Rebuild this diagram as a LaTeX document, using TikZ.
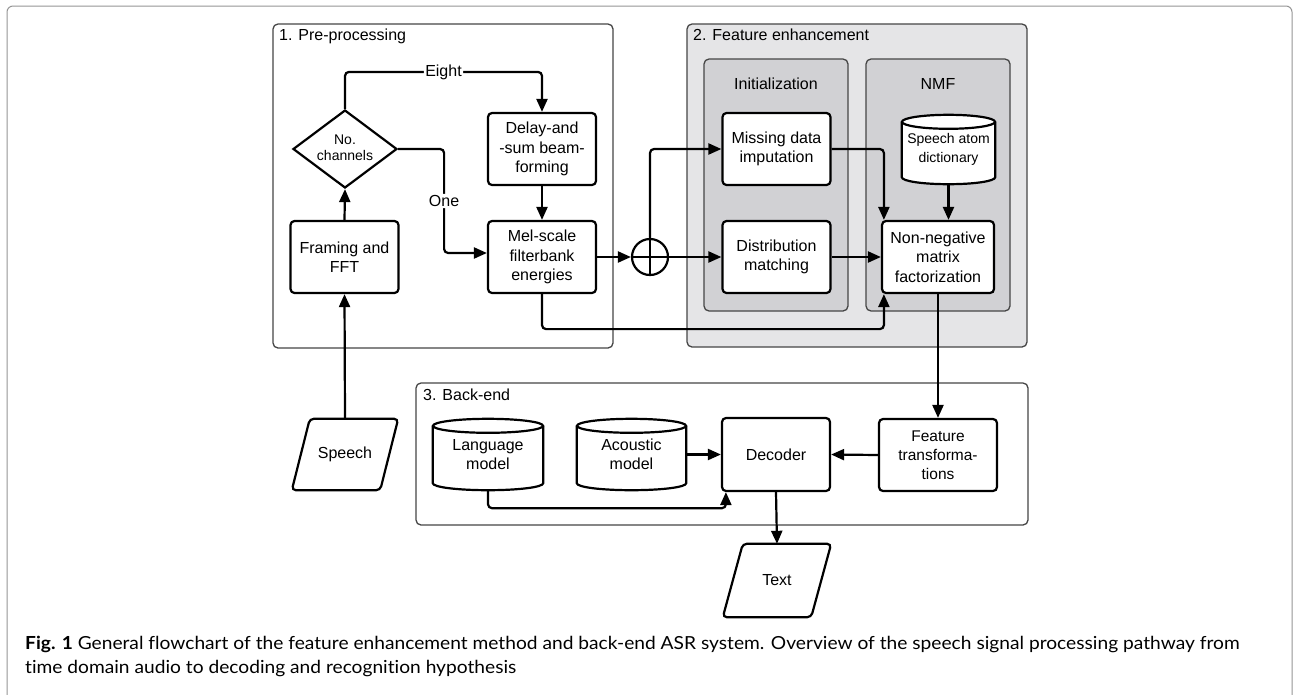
\documentclass[tikz,border=0pt]{standalone}
\usepackage{fontspec}
\setmainfont{Liberation Sans}
\newfontfamily\capfont[FakeStretch=1.065,Ligatures=NoCommon]{Lato}
\usetikzlibrary{arrows.meta,shapes.geometric,calc}
\definecolor{fe}{RGB}{229,229,231}
\definecolor{fein}{RGB}{209,209,212}
\definecolor{clborder}{RGB}{70,70,70}
\definecolor{frame}{RGB}{150,150,150}
\newcommand\drawcyl[2]{%
  \draw[cylline] ([yshift=-7pt]#1.north west) -- ([yshift=7pt]#1.south west)
     .. controls +(0,4) and +(-0.552*#2,0) .. (#1.south)
     .. controls +(0.552*#2,0) and +(0,4) .. ([yshift=7pt]#1.south east)
     -- ([yshift=-7pt]#1.north east);
  \draw[cylline] ([yshift=-7pt]#1.north) ellipse [x radius=#2, y radius=7];
}
\newcommand\drawpara[2]{%
  \draw[cylline, rounded corners=4pt] ([xshift=#2]#1.north west) -- ([xshift=#2]#1.north east)
     -- ([xshift=-#2]#1.south east) -- ([xshift=-#2]#1.south west) -- cycle;
}
\begin{document}
\begin{tikzpicture}[x=1pt,y=-1pt,
  font=\fontsize{16}{19.5}\selectfont,
  box/.style={draw, line width=2.2pt, rounded corners=4pt, minimum width=108pt,
    minimum height=72pt, inner sep=0pt, align=center, fill=white},
  cylnode/.style={inner sep=0pt, align=center, minimum width=110pt, minimum height=71pt},
  cylline/.style={line width=2.2pt, fill=white},
  cluster/.style={draw=clborder, line width=1.3pt, rounded corners=5pt},
  arr/.style={line width=2.2pt, rounded corners=4pt, -{Triangle[length=13pt,width=11pt]}},
  ln/.style={line width=2.2pt},
  lbl/.style={fill=white, inner sep=1.5pt},
  cltitle/.style={anchor=west, inner sep=0pt}
]
\useasboundingbox (0,0) rectangle (1294,694);
\fill[white] (0,0) rectangle (1294,694);
\draw[frame, line width=1pt, rounded corners=6pt] (7,6) rectangle (1292,720);

% clusters
\draw[cluster, fill=white] (273,24) rectangle (613,348);
\node[cltitle] (t1) at (279,36) {1. Pre-processing};
\draw[cluster, fill=fe] (687,24) rectangle (1027,347);
\node[cltitle] (t2) at (693,35) {2. Feature enhancement};
\draw[cluster, fill=fein] (704,59) rectangle (848,311);
\node (tinit) at (776,84) {Initialization};
\draw[cluster, fill=fein] (866,59) rectangle (1010,311);
\node (tnmf) at (938,84) {NMF};
\draw[cluster, fill=white] (416,383) rectangle (1028,525);
\node[cltitle] (t3) at (423,395) {3. Back-end};

% nodes
\node[box] (framing) at (344.5,257) {Framing and\\FFT};
\node[draw, diamond, aspect=1.333, minimum width=104pt, minimum height=78pt,
  inner sep=0pt, line width=2.2pt, fill=white, font=\fontsize{14}{16}\selectfont] (dia) at (345,149)
  {\raisebox{5pt}{\begin{tabular}{@{}c@{}}No.\\channels\end{tabular}}};
\node[box] (delay) at (542,149) {Delay-and\\-sum beam-\\forming};
\node[box] (mel) at (542,257) {Mel-scale\\filterbank\\energies};
\node[box] (missing) at (776.5,149) {Missing data\\imputation};
\node[box] (distr) at (776.5,257) {Distribution\\matching};
\node[box, minimum width=112pt] (nmf) at (938,257) {Non-negative\\matrix\\factorization};
\node[draw, circle, line width=2.2pt, minimum size=36pt, inner sep=0pt, fill=white] (sum) at (650,257) {};
\node[box, minimum height=73pt] (decoder) at (776,454.5) {Decoder};
\node[box, minimum width=118pt, minimum height=72pt, font=\fontsize{15.5}{19}\selectfont] (feat) at (938,455) {Feature\\transforma-\\tions};

% cylinders
\node[cylnode, font=\fontsize{14}{19}\selectfont, minimum width=93pt, minimum height=69pt] (atom) at (948.5,149.5) {};
\drawcyl{atom}{46.5}
\node[cylnode, font=\fontsize{14}{19}\selectfont, minimum width=93pt, minimum height=69pt] (atomtxt) at (atom) {Speech atom\\dictionary};
\node[cylnode] (lang) at (488,454.5) {};
\drawcyl{lang}{55}
\node[cylnode] (langtxt) at (lang) {Language\\model};
\node[cylnode, minimum width=109pt] (acoustic) at (631.5,454.5) {};
\drawcyl{acoustic}{54.5}
\node[cylnode, minimum width=109pt] (acoustictxt) at (acoustic) {Acoustic\\model};

% parallelograms
\node[inner sep=0pt, minimum width=88pt, minimum height=71pt] (speech) at (345,454.5) {};
\drawpara{speech}{9pt}
\node (speechtxt) at (speech) {Speech};
\node[inner sep=0pt, minimum width=88pt, minimum height=73pt] (text) at (777,580.5) {};
\drawpara{text}{10pt}
\node (texttxt) at (text) {Text};

% summing junction cross
\draw[ln] (sum.north) -- (sum.south);
\draw[ln] (sum.west) -- (sum.east);

% connectors
\draw[arr] (speech.north) -- (framing.south);
\draw[arr] (framing.north) -- (dia.south);
\draw[arr] (dia.north) -- ++(0,-37) -| node[lbl, pos=0.25] {Eight} (delay.north);
\draw[arr] (dia.east) -- ++(46,0) |- node[lbl, pos=0.25] {One} ([yshift=4pt]mel.west);
\draw[arr] (delay.south) -- (mel.north);
\draw[arr] (mel.east) -- (sum.west);
\draw[arr] (sum.east) -- (distr.west);
\draw[arr] (sum.north) |- (missing.west);
\draw[arr] (missing.east) -| ([xshift=3pt]nmf.north west);
\draw[arr] (atom.south) -- (atom.south |- nmf.north);
\draw[arr] (distr.east) -- (nmf.west);
\draw[arr] (mel.south) -- ++(0,35) -| ([xshift=3pt]nmf.south west);
\draw[arr] (nmf.south) -- (feat.north);
\draw[arr] (acoustic.east) -- (decoder.west);
\draw[arr] (feat.west) -- (decoder.east);
\draw[arr] (lang.south) -- ++(0,18) -| ([xshift=5pt]decoder.south west);
\draw[arr] (decoder.south) -- (text.north);

% caption
\node[anchor=base west, inner sep=0pt, align=left, font=\capfont\fontsize{18}{24}\selectfont] (cap) at (25,673)
  {\textbf{Fig. 1} General flowchart of the feature enhancement method and back-end ASR system. Overview of the speech signal processing pathway from\\
   time domain audio to decoding and recognition hypothesis};
\end{tikzpicture}
\end{document}
